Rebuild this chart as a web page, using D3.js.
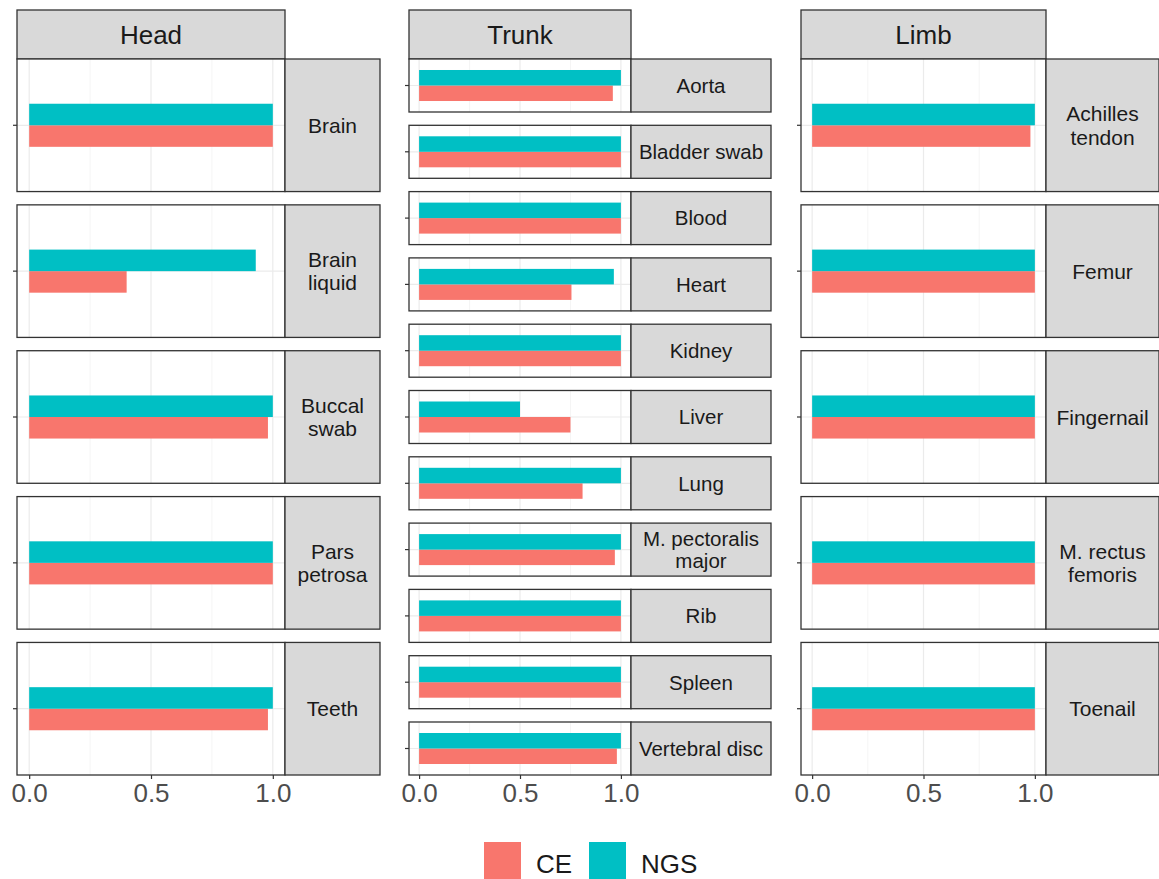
<!DOCTYPE html>
<html>
<head>
<meta charset="utf-8">
<script src="https://cdn.jsdelivr.net/npm/d3@7"></script>
<style>
  html, body { margin: 0; padding: 0; background: #fff; }
  svg { display: block; font-family: "Liberation Sans", Arial, sans-serif; }
</style>
</head>
<body>
<svg id="chart" width="1159" height="879"></svg>
<script>
// Detection rate per sampling site, CE vs NGS
const series = ["CE", "NGS"];
const seriesColors = ["#F8766D", "#00BFC4"];
const regions = ["Head", "Trunk", "Limb"];

const headSites = ["Brain", "Brain\nliquid", "Buccal\nswab", "Pars\npetrosa", "Teeth"];
const headCE    = [1.00, 0.40, 0.98, 1.00, 0.98];
const headNGS   = [1.00, 0.93, 1.00, 1.00, 1.00];

const trunkSites = ["Aorta", "Bladder swab", "Blood", "Heart", "Kidney", "Liver", "Lung",
                    "M. pectoralis\nmajor", "Rib", "Spleen", "Vertebral disc"];
const trunkCE    = [0.96, 1.00, 1.00, 0.755, 1.00, 0.75, 0.81, 0.97, 1.00, 1.00, 0.98];
const trunkNGS   = [1.00, 1.00, 1.00, 0.965, 1.00, 0.50, 1.00, 1.00, 1.00, 1.00, 1.00];

const limbSites = ["Achilles\ntendon", "Femur", "Fingernail", "M. rectus\nfemoris", "Toenail"];
const limbCE    = [0.98, 1.00, 1.00, 1.00, 1.00];
const limbNGS   = [1.00, 1.00, 1.00, 1.00, 1.00];

const xTicks = [0, 0.5, 1];
const xMinor = [0.25, 0.75];

// layout of the three facet columns
const columns = [
  { sites: headSites,  ce: headCE,  ngs: headNGS,  x0: 17,  x1: 285, s1: 380,  barFrac: 0.325, stripFont: 21 },
  { sites: trunkSites, ce: trunkCE, ngs: trunkNGS, x0: 409, x1: 631, s1: 771,  barFrac: 0.585, stripFont: 20.5 },
  { sites: limbSites,  ce: limbCE,  ngs: limbNGS,  x0: 801, x1: 1046, s1: 1159, barFrac: 0.325, stripFont: 21 }
];

const topStrip = 10, panelTop = 59, panelBottom = 775, gap = 13.3;
const borderColor = "#333333";
const stripFill = "#D9D9D9";

const svg = d3.select("#chart");

columns.forEach((col, ci) => {
  const g = svg.append("g");
  const n = col.sites.length;
  const ph = (panelBottom - panelTop - gap * (n - 1)) / n;
  const x = d3.scaleLinear().domain([-0.05, 1.05]).range([col.x0, col.x1]);

  // column header strip
  g.append("rect")
    .attr("x", col.x0).attr("y", topStrip)
    .attr("width", col.x1 - col.x0).attr("height", panelTop - topStrip)
    .attr("fill", stripFill).attr("stroke", borderColor).attr("stroke-width", 1.3);
  g.append("text")
    .attr("x", (col.x0 + col.x1) / 2).attr("y", (topStrip + panelTop) / 2 + 9)
    .attr("text-anchor", "middle")
    .attr("font-size", 26).attr("fill", "#1A1A1A")
    .text(regions[ci]);

  const rows = col.sites.map((s, i) => ({
    site: s,
    values: series.map((k, j) => ({ key: k, value: j === 0 ? col.ce[i] : col.ngs[i] }))
  }));

  rows.forEach((row, ri) => {
    const top = panelTop + ri * (ph + gap);
    const pg = g.append("g");

    // y band for the single site in this facet, sub-band for the two methods
    const padOuter = (1 / col.barFrac - 1) / 2;
    const y = d3.scaleBand().domain([row.site]).range([top, top + ph])
      .paddingInner(0).paddingOuter(padOuter);
    const ySub = d3.scaleBand().domain(["NGS", "CE"]).range([0, y.bandwidth()]);

    // panel background
    pg.append("rect")
      .attr("x", col.x0).attr("y", top)
      .attr("width", col.x1 - col.x0).attr("height", ph)
      .attr("fill", "#fff");

    // minor and major grid lines
    pg.selectAll("line.minor").data(xMinor).join("line")
      .attr("x1", d => x(d)).attr("x2", d => x(d))
      .attr("y1", top).attr("y2", top + ph)
      .attr("stroke", "#F2F2F2").attr("stroke-width", 0.8);
    pg.selectAll("line.major").data(xTicks).join("line")
      .attr("x1", d => x(d)).attr("x2", d => x(d))
      .attr("y1", top).attr("y2", top + ph)
      .attr("stroke", "#EBEBEB").attr("stroke-width", 1.2);
    const yc = y(row.site) + y.bandwidth() / 2;
    pg.append("line")
      .attr("x1", col.x0).attr("x2", col.x1)
      .attr("y1", yc).attr("y2", yc)
      .attr("stroke", "#EBEBEB").attr("stroke-width", 1.2);

    // bars
    pg.selectAll("rect.bar").data(row.values).join("rect")
      .attr("class", "bar")
      .attr("x", x(0))
      .attr("y", d => y(row.site) + ySub(d.key))
      .attr("width", d => x(d.value) - x(0))
      .attr("height", ySub.bandwidth())
      .attr("fill", d => seriesColors[series.indexOf(d.key)]);

    // panel border
    pg.append("rect")
      .attr("x", col.x0).attr("y", top)
      .attr("width", col.x1 - col.x0).attr("height", ph)
      .attr("fill", "none").attr("stroke", borderColor).attr("stroke-width", 1.3);

    // y tick
    pg.append("line")
      .attr("x1", col.x0 - 4).attr("x2", col.x0)
      .attr("y1", yc).attr("y2", yc)
      .attr("stroke", borderColor).attr("stroke-width", 1.2);

    // row strip
    pg.append("rect")
      .attr("x", col.x1).attr("y", top)
      .attr("width", col.s1 - col.x1).attr("height", ph)
      .attr("fill", stripFill).attr("stroke", borderColor).attr("stroke-width", 1.3);
    const lines = row.site.split("\n");
    const lh = col.stripFont * 1.12;
    const cx = (col.x1 + col.s1) / 2;
    const cy = top + ph / 2;
    const t = pg.append("text")
      .attr("text-anchor", "middle")
      .attr("font-size", col.stripFont).attr("fill", "#1A1A1A");
    lines.forEach((ln, li) => {
      t.append("tspan")
        .attr("x", cx)
        .attr("y", cy + (li - (lines.length - 1) / 2) * lh + col.stripFont * 0.36)
        .text(ln);
    });
  });

  // bottom axis
  const axis = d3.axisBottom(x).tickValues(xTicks).tickFormat(d3.format(".1f"))
    .tickSize(4).tickPadding(5).tickSizeOuter(0);
  const ag = g.append("g").attr("transform", `translate(0,${panelBottom})`).call(axis);
  ag.select(".domain").remove();
  ag.selectAll(".tick line").attr("stroke", borderColor).attr("stroke-width", 1.2);
  ag.selectAll(".tick text")
    .attr("font-size", 26).attr("fill", "#4D4D4D")
    .attr("font-family", "\"Liberation Sans\", Arial, sans-serif");
});

// legend
const legend = svg.append("g");
const legendX = [484, 589];
series.forEach((s, i) => {
  legend.append("rect")
    .attr("x", legendX[i]).attr("y", 842)
    .attr("width", 37).attr("height", 37)
    .attr("fill", seriesColors[i]);
  legend.append("text")
    .attr("x", legendX[i] + 52).attr("y", 873)
    .attr("font-size", 26).attr("fill", "#1A1A1A")
    .text(s);
});
</script>
</body>
</html>
